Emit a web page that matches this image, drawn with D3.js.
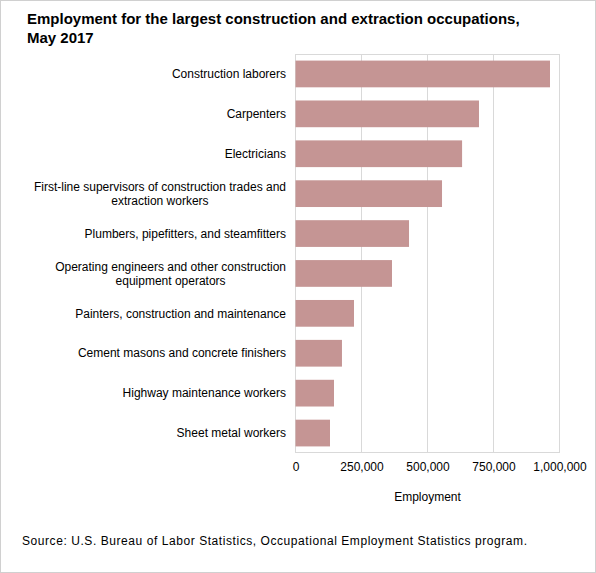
<!DOCTYPE html>
<html>
<head>
	<title>construction-occupations</title>
	<script src="https://d3js.org/d3.v7.min.js"></script>
	<style>
		body { margin: 0; }
		svg { font-family: "Liberation Sans", Arial, sans-serif; }
	</style>
</head>
<body>
	<svg width="596" height="573"></svg>
	<script type="text/javascript">
		var occupations = [
			['Construction laborers'],
			['Carpenters'],
			['Electricians'],
			['First-line supervisors of construction trades and', 'extraction workers'],
			['Plumbers, pipefitters, and steamfitters'],
			['Operating engineers and other construction', 'equipment operators'],
			['Painters, construction and maintenance'],
			['Cement masons and concrete finishers'],
			['Highway maintenance workers'],
			['Sheet metal workers']
		];
		var employment = [964000, 695000, 631000, 555000, 430000, 365500, 221600, 176000, 145800, 130700];
		var ticks = [0, 250000, 500000, 750000, 1000000];

		var svg = d3.select('svg');
		var margin = { left: 295.5, right: 36.5, top: 54, bottom: 120 };

		svg.append('rect')
			.attr('x', 0.5).attr('y', 0.5)
			.attr('width', 595).attr('height', 572)
			.attr('fill', '#fff')
			.attr('stroke', '#d0d0d0');

		svg.append('text')
			.attr('x', 27).attr('y', 24)
			.style('font-size', '15px').style('font-weight', 'bold')
			.text('Employment for the largest construction and extraction occupations,');
		svg.append('text')
			.attr('x', 27).attr('y', 43)
			.style('font-size', '15px').style('font-weight', 'bold')
			.text('May 2017');

		var x = d3.scaleLinear()
			.domain([0, 1000000])
			.range([margin.left, 596 - margin.right]);
		var y = d3.scaleBand()
			.domain(d3.range(employment.length))
			.range([margin.top, 573 - margin.bottom])
			.paddingInner(0.33)
			.paddingOuter(0.165);

		// gridlines + plot frame
		svg.append('g')
			.selectAll('line')
			.data(ticks)
			.enter().append('line')
			.attr('x1', d => x(d)).attr('x2', d => x(d))
			.attr('y1', margin.top).attr('y2', 573 - margin.bottom)
			.attr('stroke', '#d9d9d9');
		svg.append('rect')
			.attr('x', x(0)).attr('y', margin.top + 0.5)
			.attr('width', x(1000000) - x(0))
			.attr('height', 573 - margin.bottom - margin.top - 1)
			.attr('fill', 'none')
			.attr('stroke', '#d9d9d9');

		svg.append('g')
			.selectAll('rect')
			.data(employment)
			.enter().append('rect')
			.attr('x', x(0))
			.attr('y', (d, i) => y(i))
			.attr('width', d => x(d) - x(0))
			.attr('height', y.bandwidth())
			.attr('fill', '#c59594');

		var xAxis = svg.append('g')
			.attr('transform', 'translate(0,' + (573 - margin.bottom) + ')')
			.call(d3.axisBottom(x).tickValues(ticks).tickSize(0).tickPadding(9).tickFormat(d3.format(',')));
		xAxis.select('.domain').remove();
		xAxis.selectAll('text')
			.style('font-size', '12px')
			.style('font-family', '"Liberation Sans", Arial, sans-serif')
			.attr('fill', '#000');

		// category labels: right aligned, wrapped lines centred on each other
		var labels = svg.append('g')
			.selectAll('g')
			.data(occupations)
			.enter().append('g')
			.attr('transform', (d, i) => 'translate(0,' + (y(i) + y.bandwidth() / 2) + ')');
		labels.each(function (d) {
			var g = d3.select(this);
			if (d.length === 1) {
				g.append('text')
					.attr('x', 286).attr('dy', '0.35em')
					.attr('text-anchor', 'end')
					.style('font-size', '12px')
					.text(d[0]);
				return;
			}
			var first = g.append('text')
				.attr('x', 286).attr('dy', '-0.2em')
				.attr('text-anchor', 'end')
				.style('font-size', '12px')
				.text(d[0]);
			var w = first.node().getComputedTextLength();
			g.append('text')
				.attr('x', 286 - w / 2).attr('dy', '0.95em')
				.attr('text-anchor', 'middle')
				.style('font-size', '12px')
				.text(d[1]);
		});

		svg.append('text')
			.attr('x', x(500000)).attr('y', 501)
			.attr('text-anchor', 'middle')
			.style('font-size', '12px')
			.text('Employment');

		svg.append('text')
			.attr('x', 22).attr('y', 545)
			.style('font-size', '12px')
			.attr('textLength', 505)
			.text('Source: U.S. Bureau of Labor Statistics, Occupational Employment Statistics program.');
	</script>
</body>
</html>
